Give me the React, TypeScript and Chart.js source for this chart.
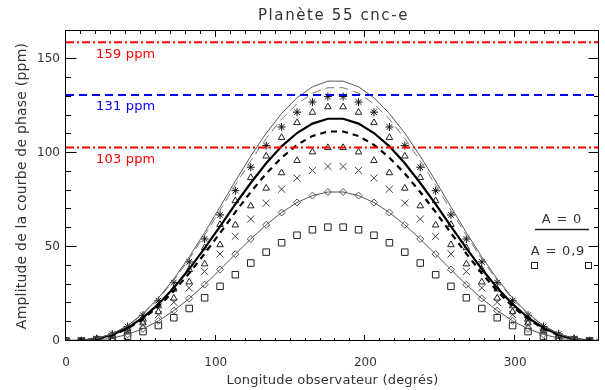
import React, { useEffect, useRef } from 'react';
import { Chart, registerables } from 'chart.js';

Chart.register(...registerables);

const TITLE = 'Planète 55 cnc-e';
const X_TITLE = 'Longitude observateur (degrés)';
const Y_TITLE = 'Amplitude de la courbe de phase (ppm)';

const X_MIN = 0;
const X_MAX = 356;
const Y_MIN = 0;
const Y_MAX = 165;

const longitudes = [0, 10.3, 20.6, 30.9, 41.1, 51.4, 61.7, 72, 82.3, 92.6, 102.9, 113.1, 123.4, 133.7, 144, 154.3, 164.6, 174.9,
  185.1, 195.4, 205.7, 216, 226.3, 236.6, 246.9, 257.1, 267.4, 277.7, 288, 298.3, 308.6, 318.9, 329.1, 339.4, 349.7, 360];

const thinSolid = [0, 0.2, 1.3, 3.9, 8.2, 14.6, 22.9, 33.0, 44.8, 57.7, 71.4, 85.1, 98.4, 110.6, 121.1, 129.5, 135.3, 138.3,
  138.3, 135.3, 129.5, 121.1, 110.6, 98.4, 85.1, 71.4, 57.7, 44.8, 33.0, 22.9, 14.6, 8.2, 3.9, 1.3, 0.2, 0];
const thinDashed = [0, 0.2, 1.3, 3.8, 8.0, 14.2, 22.3, 32.2, 43.7, 56.3, 69.6, 83.0, 95.9, 107.8, 118.1, 126.2, 131.9, 134.8,
  134.8, 131.9, 126.2, 118.1, 107.8, 95.9, 83.0, 69.6, 56.3, 43.7, 32.2, 22.3, 14.2, 8.0, 3.8, 1.3, 0.2, 0];
const asterisks = [0, 0.2, 1.3, 3.7, 7.7, 13.7, 21.5, 31.1, 42.1, 54.3, 67.1, 80.0, 92.5, 104.0, 113.9, 121.8, 127.2, 130.1,
  130.1, 127.2, 121.8, 113.9, 104.0, 92.5, 80.0, 67.1, 54.3, 42.1, 31.1, 21.5, 13.7, 7.7, 3.7, 1.3, 0.2, 0];
const trianglesHigh = [0, 0.1, 1.0, 2.9, 6.4, 11.7, 18.7, 27.6, 38.0, 49.6, 62.0, 74.6, 87.0, 98.4, 108.3, 116.2, 121.7, 124.6,
  124.6, 121.7, 116.2, 108.3, 98.4, 87.0, 74.6, 62.0, 49.6, 38.0, 27.6, 18.7, 11.7, 6.4, 2.9, 1.0, 0.1, 0];
const thickSolid = [0, 0.2, 1.1, 3.3, 7.0, 12.4, 19.6, 28.3, 38.3, 49.4, 61.0, 72.8, 84.1, 94.6, 103.6, 110.7, 115.7, 118.3,
  118.3, 115.7, 110.7, 103.6, 94.6, 84.1, 72.8, 61.0, 49.4, 38.3, 28.3, 19.6, 12.4, 7.0, 3.3, 1.1, 0.2, 0];
const thickDashed = [0, 0.2, 1.1, 3.1, 6.6, 11.7, 18.4, 26.6, 36.1, 46.5, 57.5, 68.6, 79.3, 89.1, 97.6, 104.4, 109.1, 111.5,
  111.5, 109.1, 104.4, 97.6, 89.1, 79.3, 68.6, 57.5, 46.5, 36.1, 26.6, 18.4, 11.7, 6.6, 3.1, 1.1, 0.2, 0];
const trianglesLow = [0, 0.1, 0.8, 2.4, 5.3, 9.6, 15.5, 22.8, 31.4, 41.0, 51.2, 61.7, 71.9, 81.3, 89.5, 96.0, 100.6, 102.9,
  102.9, 100.6, 96.0, 89.5, 81.3, 71.9, 61.7, 51.2, 41.0, 31.4, 22.8, 15.5, 9.6, 5.3, 2.4, 0.8, 0.1, 0];
const crosses = [0, 0.1, 0.7, 2.2, 4.8, 8.7, 14.0, 20.6, 28.3, 37.0, 46.3, 55.7, 64.9, 73.4, 80.8, 86.7, 90.8, 92.9,
  92.9, 90.8, 86.7, 80.8, 73.4, 64.9, 55.7, 46.3, 37.0, 28.3, 20.6, 14.0, 8.7, 4.8, 2.2, 0.7, 0.1, 0];
const diamonds = [0, 0.1, 0.5, 1.5, 3.5, 6.5, 10.7, 16.2, 22.6, 30.0, 38.0, 46.2, 54.3, 61.8, 68.4, 73.7, 77.4, 79.3,
  79.3, 77.4, 73.7, 68.4, 61.8, 54.3, 46.2, 38.0, 30.0, 22.6, 16.2, 10.7, 6.5, 3.5, 1.5, 0.5, 0.1, 0];
const squares = [0, 0.0, 0.4, 1.1, 2.6, 5.0, 8.2, 12.4, 17.3, 23.0, 29.1, 35.3, 41.5, 47.3, 52.3, 56.3, 59.2, 60.6,
  60.6, 59.2, 56.3, 52.3, 47.3, 41.5, 35.3, 29.1, 23.0, 17.3, 12.4, 8.2, 5.0, 2.6, 1.1, 0.4, 0.0, 0];

const refLevels = [159, 131, 103];
const refLabels = ['159 ppm', '131 ppm', '103 ppm'];
const refColors = ['#ff0000', '#0000ff', '#ff0000'];
const legendLabels = ['A = 0', 'A = 0,9'];

const FONT = '"DejaVu Sans", "Liberation Sans", sans-serif';
const TEXT = '#333';

function pts(vals: number[]) {
  return longitudes.map((x, i) => ({ x, y: vals[i] }));
}

const decorPlugin = {
  id: 'decor',
  afterDraw(chart: any) {
    const ctx = chart.ctx as CanvasRenderingContext2D;
    const { left, right, top, bottom } = chart.chartArea;
    const xs = chart.scales.x;
    const ys = chart.scales.y;
    ctx.save();
    ctx.strokeStyle = '#000';
    ctx.lineWidth = 1;
    ctx.strokeRect(left - 0.5, top - 0.5, right - left, bottom - top);
    ctx.beginPath();
    for (const t of xs.ticks) {
      const v = t.value;
      if (v % 10 !== 0) continue;
      const px = Math.round(xs.getPixelForValue(v)) - 0.5;
      const len = v % 100 === 0 ? 6 : 3;
      ctx.moveTo(px, bottom);
      ctx.lineTo(px, bottom - len);
      ctx.moveTo(px, top);
      ctx.lineTo(px, top + len);
    }
    for (const t of ys.ticks) {
      const v = t.value;
      if (v % 10 !== 0) continue;
      const py = Math.round(ys.getPixelForValue(v)) - 0.5;
      const len = v % 50 === 0 ? 10.5 : 5;
      ctx.moveTo(left, py);
      ctx.lineTo(left + len, py);
      ctx.moveTo(right, py);
      ctx.lineTo(right - len, py);
    }
    ctx.stroke();

    const c: any = ctx;
    ctx.fillStyle = TEXT;
    ctx.textAlign = 'center';
    ctx.textBaseline = 'middle';
    ctx.font = `15px ${FONT}`;
    c.letterSpacing = '1.6px';
    ctx.fillText(TITLE, (left + right) / 2 + 1, top - 15);
    ctx.font = `13px ${FONT}`;
    c.letterSpacing = '0.2px';
    ctx.fillText(X_TITLE, (left + right) / 2, 381);
    ctx.save();
    ctx.translate(22, (top + bottom) / 2);
    ctx.rotate(-Math.PI / 2);
    ctx.font = `14px ${FONT}`;
    c.letterSpacing = '0.2px';
    ctx.fillText(Y_TITLE, 0, 0);
    ctx.restore();

    ctx.textAlign = 'left';
    c.letterSpacing = '0.2px';
    ctx.font = `13px ${FONT}`;
    refLevels.forEach((lvl, i) => {
      ctx.fillStyle = refColors[i];
      ctx.fillText(refLabels[i], xs.getPixelForValue(20), ys.getPixelForValue(lvl) + 12);
    });

    ctx.fillStyle = TEXT;
    ctx.textAlign = 'center';
    c.letterSpacing = '0.8px';
    ctx.fillText(legendLabels[0], 562, 220);
    ctx.fillText(legendLabels[1], 558, 252);
    ctx.strokeStyle = '#222';
    ctx.lineWidth = 1.5;
    ctx.beginPath();
    ctx.moveTo(535, 229.5);
    ctx.lineTo(589, 229.5);
    ctx.stroke();
    ctx.lineWidth = 1;
    ctx.strokeRect(531.5, 262.5, 6, 6);
    ctx.strokeRect(585.5, 262.5, 6, 6);
    ctx.restore();
  },
};

export default function App() {
  const ref = useRef<HTMLCanvasElement>(null);
  useEffect(() => {
    if (!ref.current) return;
    const refDatasets = refLevels.map((lvl, i) => ({
      data: [{ x: X_MIN, y: lvl }, { x: 360, y: lvl }],
      borderColor: refColors[i],
      borderWidth: 2,
      borderDash: i === 1 ? [8, 5] : [8, 3, 2, 3],
      pointRadius: 0,
    }));
    const chart = new Chart(ref.current, {
      type: 'line',
      data: {
        datasets: [
          ...refDatasets,
          { data: pts(thinSolid), borderColor: '#555', borderWidth: 1, pointRadius: 0 },
          { data: pts(thinDashed), borderColor: '#777', borderWidth: 1, borderDash: [9, 5], pointRadius: 0 },
          { data: pts(thickSolid), borderColor: '#000', borderWidth: 2.2, pointRadius: 0 },
          { data: pts(thickDashed), borderColor: '#000', borderWidth: 2.2, borderDash: [6, 5], pointRadius: 0 },
          { data: pts(diamonds), borderColor: '#555', borderWidth: 1, pointStyle: 'rectRot', pointRadius: 3.5,
            pointBackgroundColor: 'rgba(0,0,0,0)', pointBorderColor: '#555', pointBorderWidth: 1 },
          { data: pts(asterisks), showLine: false, pointStyle: 'star', pointRadius: 4,
            pointBorderColor: '#111', pointBackgroundColor: 'rgba(0,0,0,0)', pointBorderWidth: 1 },
          { data: pts(trianglesHigh), showLine: false, pointStyle: 'triangle', pointRadius: 3.8,
            pointBorderColor: '#222', pointBackgroundColor: 'rgba(0,0,0,0)', pointBorderWidth: 1 },
          { data: pts(trianglesLow), showLine: false, pointStyle: 'triangle', pointRadius: 3.8,
            pointBorderColor: '#222', pointBackgroundColor: 'rgba(0,0,0,0)', pointBorderWidth: 1 },
          { data: pts(crosses), showLine: false, pointStyle: 'crossRot', pointRadius: 5,
            pointBorderColor: '#444', pointBackgroundColor: 'rgba(0,0,0,0)', pointBorderWidth: 1 },
          { data: pts(squares), showLine: false, pointStyle: 'rect', pointRadius: 4.6,
            pointBorderColor: '#222', pointBackgroundColor: 'rgba(0,0,0,0)', pointBorderWidth: 1 },
        ] as any,
      },
      options: {
        animation: false,
        responsive: true,
        maintainAspectRatio: false,
        elements: { line: { tension: 0, fill: false } },
        layout: { padding: { top: 31, right: 1, left: 0, bottom: 0 } },
        plugins: {
          legend: { display: false },
          title: { display: false },
          tooltip: { enabled: false },
        },
        scales: {
          x: {
            type: 'linear',
            min: X_MIN,
            max: X_MAX,
            afterFit: (s: any) => { s.height = 49; s.paddingLeft = 0; s.paddingRight = 0; },
            grid: { display: false, drawTicks: false },
            border: { display: false },
            ticks: {
              stepSize: 10,
              autoSkip: false,
              maxRotation: 0,
              padding: 15,
              color: TEXT,
              font: { family: FONT, size: 12 },
              callback: (v: any) => (Number(v) % 100 === 0 ? String(v) : ''),
            },
          },
          y: {
            type: 'linear',
            min: Y_MIN,
            max: Y_MAX,
            afterFit: (s: any) => { s.width = 66; s.paddingTop = 0; s.paddingBottom = 0; },
            grid: { display: false, drawTicks: false },
            border: { display: false },
            ticks: {
              stepSize: 10,
              autoSkip: false,
              padding: 6,
              color: TEXT,
              font: { family: FONT, size: 12 },
              callback: (v: any) => (Number(v) % 50 === 0 ? String(v) : ''),
            },
          },
        },
      } as any,
      plugins: [decorPlugin],
    });
    return () => chart.destroy();
  }, []);
  return (
    <div style={{ position: 'fixed', left: 0, top: 0, width: 605, height: 390, background: '#fff' }}>
      <canvas ref={ref} />
    </div>
  );
}
